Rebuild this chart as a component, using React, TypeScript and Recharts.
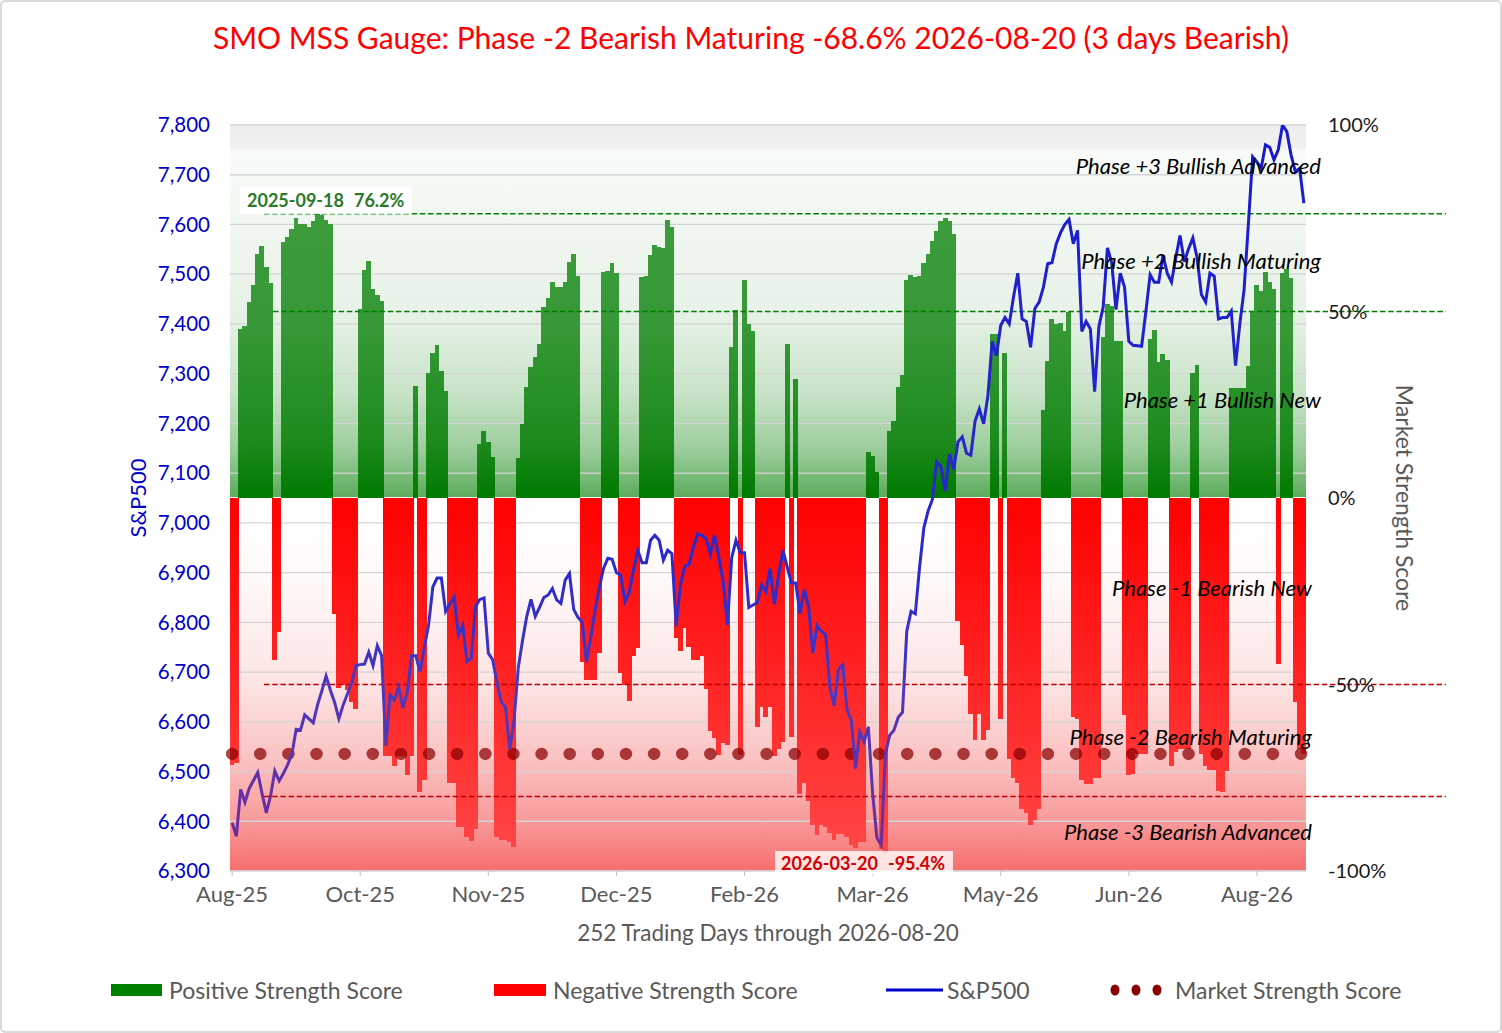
import React from 'react';
import { ComposedChart, Bar, Line, XAxis, YAxis, CartesianGrid, ReferenceLine } from 'recharts';

// Market strength score per trading day (%), 252 days Aug-25 .. 2026-08-20
const SCORE: number[] = [
  -71.5, -71.0, 45.3, 46.2, 52.6, 57.2, 65.3, 67.5, 61.8, 57.6,
  -43.3, -36.0, 68.6, 70.0, 72.0, 75.0, 73.4, 73.4, 72.6, 74.2,
  76.2, 76.0, 74.4, 73.4, -31.1, -50.9, -50.2, -51.5, -54.8, -56.5,
  50.6, 61.0, 63.5, 56.0, 54.5, 52.7, -69.3, -69.3, -71.9, -69.3,
  -69.3, -74.2, -69.3, 29.9, -78.7, -75.5, 33.5, 38.9, 41.0, 34.0,
  28.6, -76.3, -76.3, -88.1, -88.1, -90.8, -92.0, -88.8, 14.4, 17.9,
  14.9, 10.9, -91.0, -91.8, -91.8, -92.2, -93.6, 10.7, 19.9, 29.8,
  35.0, 37.8, 41.4, 51.3, 53.6, 57.8, 56.5, 56.7, 57.8, 63.4,
  65.5, 59.4, -44.0, -48.9, -48.9, -48.9, -41.6, 60.5, 60.9, 63.1,
  60.2, -46.8, -50.1, -54.3, -42.4, -40.2, 59.2, 59.4, 65.1, 67.7,
  67.3, 67.1, 74.6, 72.6, -37.4, -40.9, -34.8, -40.0, -43.3, -43.3,
  -42.4, -51.2, -62.4, -64.4, -69.0, -65.7, -66.1, 40.4, 50.3, -69.0,
  58.5, 46.6, 44.7, -61.4, -56.1, -58.8, -56.1, -69.3, -67.3, -65.3,
  41.4, -64.0, 31.8, -79.4, -76.5, -81.1, -87.7, -90.4, -87.7, -88.1,
  -89.7, -91.7, -90.0, -90.0, -91.0, -93.0, -93.7, -92.1, -92.1, 12.3,
  11.3, 7.1, -94.2, -95.4, 17.9, 20.7, 29.8, 33.1, 58.5, 59.8,
  59.2, 59.4, 63.1, 65.3, 69.0, 71.7, 74.3, 75.0, 74.3, 70.8,
  -33.1, -39.4, -47.6, -57.8, -65.0, -57.8, -65.0, -62.1, 44.0, 44.0,
  -59.2, 39.0, -70.0, -75.2, -76.5, -83.4, -84.5, -87.7, -86.4, -83.4,
  23.6, 36.8, 48.0, 46.6, 47.0, 44.9, 49.9, -58.8, -59.2, -75.5,
  -76.8, -76.8, -75.2, -75.0, 43.1, 51.9, 51.5, 42.0, 42.0, -58.1,
  -74.2, -73.9, -68.6, -68.6, -68.6, 42.7, 45.1, 36.5, 38.7, 37.0,
  -71.9, -68.0, -67.3, -67.3, -67.3, 33.5, 35.7, -68.6, -71.9, -72.9,
  -72.9, -78.5, -78.9, -73.3, 29.5, 29.5, 29.5, 29.5, 35.4, 50.0,
  57.2, 55.6, 60.7, 58.0, 55.9, -44.4, 60.2, 61.3, 59.1, -54.7,
  -67.2, -68.6,
];

// S&P500 close per trading day
const SPX: number[] = [
  6397, 6370, 6464, 6438, 6466, 6482, 6498, 6456, 6417, 6451,
  6501, 6481, 6496, 6514, 6535, 6585, 6583, 6614, 6606, 6598,
  6634, 6662, 6692, 6664, 6639, 6606, 6634, 6656, 6678, 6713,
  6715, 6716, 6740, 6713, 6753, 6733, 6552, 6654, 6644, 6670,
  6628, 6659, 6733, 6733, 6701, 6748, 6794, 6871, 6889, 6889,
  6822, 6837, 6851, 6774, 6794, 6721, 6728, 6832, 6846, 6849,
  6738, 6725, 6680, 6640, 6630, 6545, 6600, 6708, 6763, 6812,
  6846, 6812, 6830, 6850, 6855, 6868, 6845, 6838, 6885, 6898,
  6826, 6810, 6800, 6720, 6770, 6825, 6870, 6909, 6929, 6927,
  6900, 6895, 6842, 6860, 6905, 6945, 6920, 6920, 6965, 6975,
  6965, 6925, 6945, 6938, 6792, 6876, 6913, 6916, 6950, 6978,
  6975, 6968, 6938, 6975, 6930, 6881, 6795, 6930, 6965, 6940,
  6940, 6830, 6835, 6840, 6875, 6862, 6908, 6836, 6896, 6945,
  6911, 6879, 6879, 6817, 6866, 6832, 6738, 6794, 6782, 6775,
  6669, 6632, 6705, 6715, 6624, 6604, 6506, 6580, 6560, 6590,
  6456, 6367, 6352, 6535, 6573, 6583, 6609, 6619, 6782, 6822,
  6817, 6911, 6990, 7024, 7047, 7123, 7113, 7064, 7138, 7108,
  7163, 7173, 7140, 7136, 7205, 7229, 7199, 7255, 7365, 7336,
  7397, 7413, 7400, 7454, 7502, 7410, 7405, 7353, 7431, 7444,
  7474, 7521, 7523, 7561, 7583, 7600, 7610, 7561, 7588, 7385,
  7405, 7390, 7264, 7395, 7434, 7553, 7523, 7429, 7502, 7474,
  7365, 7357, 7356, 7355, 7425, 7499, 7484, 7484, 7538, 7502,
  7484, 7533, 7578, 7525, 7551, 7573, 7533, 7459, 7444, 7502,
  7496, 7410, 7413, 7413, 7426, 7316, 7400, 7469, 7600, 7736,
  7726, 7713, 7760, 7755, 7730, 7750, 7800, 7787, 7740, 7706,
  7713, 7643,
];

const MSS_CURRENT = -68.6;
const PEAK_LEVEL = 76.2;
const GREEN_LEVELS = [PEAK_LEVEL, 50];
const RED_LEVELS = [-50, -80];

const X_TICK_INDEX = [0, 30, 60, 90, 120, 150, 180, 210, 240];
const X_TICK_LABELS = ['Aug-25', 'Oct-25', 'Nov-25', 'Dec-25', 'Feb-26', 'Mar-26', 'May-26', 'Jun-26', 'Aug-26'];
const SPX_TICKS = [6300, 6400, 6500, 6600, 6700, 6800, 6900, 7000, 7100, 7200, 7300, 7400, 7500, 7600, 7700, 7800];
const SCORE_TICKS = [-100, -50, 0, 50, 100];

const PHASE_UPPER = ['Phase +3 Bullish Advanced', 'Phase +2 Bullish Maturing', 'Phase +1 Bullish New'];
const PHASE_LOWER = ['Phase -1 Bearish New', 'Phase -2 Bearish Maturing', 'Phase -3 Bearish Advanced'];

const DATA = SCORE.map((s, i) => ({ i, score: s, spx: SPX[i], mss: MSS_CURRENT }));

// layout constants (plot area edges)
const PLOT_LEFT = 230;
const PLOT_RIGHT = 1306;

const ScoreBar = (p: any) => {
  const { x, y, width, height, payload } = p;
  if (x == null || y == null || !isFinite(height)) return null;
  const top = Math.min(y, y + height);
  const h = Math.abs(height);
  const pos = payload && payload.score >= 0;
  return (
    <rect
      x={x - 0.45}
      y={top}
      width={width + 0.9}
      height={h}
      fill={pos ? 'url(#barGreen)' : 'url(#barRed)'}
      shapeRendering="crispEdges"
    />
  );
};

const makeRefShape = (color: string, startOffset: number) => (p: any) => (
  <line
    x1={PLOT_LEFT + startOffset}
    x2={PLOT_RIGHT + 140}
    y1={p.y1}
    y2={p.y2}
    stroke={color}
    strokeWidth={1.5}
    strokeDasharray="5.5 2.7"
  />
);

const fmtX = (v: number) => {
  const k = X_TICK_INDEX.indexOf(v);
  return k >= 0 ? X_TICK_LABELS[k] : '';
};

export default function App() {
  return (
    <div
      style={{
        position: 'absolute',
        left: 0,
        top: 0,
        width: 1502,
        height: 1033,
        background: '#ffffff',
        fontFamily: 'Lato, "Open Sans", sans-serif',
        overflow: 'hidden',
      }}
    >
      <svg width={0} height={0} style={{ position: 'absolute' }}>
        <defs>
          <linearGradient id="plotBg" gradientUnits="userSpaceOnUse" x1={0} y1={125} x2={0} y2={871}>
            <stop offset="0" stopColor="#EDEDED" />
            <stop offset="0.03" stopColor="#F1F1F1" />
            <stop offset="0.035" stopColor="#F8FBF8" />
            <stop offset="0.25" stopColor="#E8F2E8" />
            <stop offset="0.36" stopColor="#C8E3C8" />
            <stop offset="0.44" stopColor="#98CB98" />
            <stop offset="0.498" stopColor="#5CAC5C" />
            <stop offset="0.498" stopColor="#FFFFFF" />
            <stop offset="0.6" stopColor="#FFFAFA" />
            <stop offset="0.75" stopColor="#FDE4E4" />
            <stop offset="0.85" stopColor="#FBC2C2" />
            <stop offset="0.93" stopColor="#F99C9C" />
            <stop offset="1" stopColor="#F76E6E" />
          </linearGradient>
          <linearGradient id="barGreen" gradientUnits="userSpaceOnUse" x1={0} y1={125} x2={0} y2={497}>
            <stop offset="0" stopColor="#42A042" />
            <stop offset="0.55" stopColor="#369836" />
            <stop offset="0.85" stopColor="#1D8A1D" />
            <stop offset="1" stopColor="#007A00" />
          </linearGradient>
          <linearGradient id="barRed" gradientUnits="userSpaceOnUse" x1={0} y1={497} x2={0} y2={871}>
            <stop offset="0" stopColor="#FF0000" />
            <stop offset="0.4" stopColor="#FF1E1E" />
            <stop offset="1" stopColor="#FF4A4A" />
          </linearGradient>
          <linearGradient id="spxStroke" gradientUnits="userSpaceOnUse" x1={0} y1={125} x2={0} y2={871}>
            <stop offset="0" stopColor="#1A1ACC" />
            <stop offset="0.6" stopColor="#2A2ACC" />
            <stop offset="0.76" stopColor="#4A38C0" />
            <stop offset="1" stopColor="#7A2A90" />
          </linearGradient>
        </defs>
      </svg>

      <ComposedChart
        width={1502}
        height={1033}
        data={DATA}
        margin={{ top: 125, right: 106, bottom: 122, left: 140 }}
        barCategoryGap={0}
        barGap={0}
      >
        <CartesianGrid
          yAxisId="left"
          vertical={false}
          stroke="#D4D4D4"
          strokeWidth={1.3}
          fill="url(#plotBg)"
          fillOpacity={1}
        />
        <XAxis
          dataKey="i"
          type="category"
          interval={29}
          tickFormatter={fmtX}
          height={40}
          tick={{ fill: '#595959', fontSize: 22 }}
          tickSize={5}
          tickMargin={10}
          tickLine={{ stroke: '#BFBFBF' }}
          axisLine={{ stroke: '#D9D9D9' }}
        />
        <YAxis
          yAxisId="left"
          orientation="left"
          domain={[6300, 7800]}
          ticks={SPX_TICKS}
          width={90}
          tickSize={0}
          tickMargin={20}
          axisLine={false}
          tick={{ fill: '#0000CC', fontSize: 20.5 }}
          tickFormatter={(v: number) => v.toLocaleString('en-US')}
          allowDataOverflow
        />
        <YAxis
          yAxisId="right"
          orientation="right"
          domain={[-100, 100]}
          ticks={SCORE_TICKS}
          width={90}
          tickSize={0}
          tickMargin={22}
          axisLine={false}
          tick={{ fill: '#1A1A1A', fontSize: 20 }}
          tickFormatter={(v: number) => `${v}%`}
          allowDataOverflow
        />
        <Bar yAxisId="right" dataKey="score" isAnimationActive={false} shape={ScoreBar} />
        {GREEN_LEVELS.map((lv, k) => (
          <ReferenceLine
            key={'g' + lv}
            yAxisId="right"
            y={lv}
            shape={makeRefShape('#008000', k === 0 ? 34 : 43)}
          />
        ))}
        {RED_LEVELS.map((lv) => (
          <ReferenceLine key={'r' + lv} yAxisId="right" y={lv} shape={makeRefShape('#C00000', 34)} />
        ))}
        <Line
          yAxisId="right"
          dataKey="mss"
          type="linear"
          stroke="#8B0000"
          strokeOpacity={0.72}
          strokeWidth={12.5}
          strokeLinecap="round"
          strokeDasharray="0 28.13"
          dot={false}
          activeDot={false}
          isAnimationActive={false}
        />
        <Line
          yAxisId="left"
          dataKey="spx"
          type="linear"
          stroke="url(#spxStroke)"
          strokeWidth={3}
          dot={false}
          activeDot={false}
          isAnimationActive={false}
        />
      </ComposedChart>

      <svg
        width={1502}
        height={1033}
        style={{ position: 'absolute', left: 0, top: 0, pointerEvents: 'none' }}
      >
        <rect x={1} y={1} width={1500} height={1031} rx={4} fill="none" stroke="#D9D9D9" strokeWidth={2} />
        <text x={751} y={49} textAnchor="middle" fill="#FF0000" fontSize={30}>
          SMO MSS Gauge: Phase -2 Bearish Maturing -68.6% 2026-08-20 (3 days Bearish)
        </text>

        <text
          x={137}
          y={498}
          transform="rotate(-90 137 498)"
          textAnchor="middle"
          dominantBaseline="central"
          fill="#0000CC"
          fontSize={22}
        >
          S&amp;P500
        </text>
        <text
          x={1405}
          y={498}
          transform="rotate(90 1405 498)"
          textAnchor="middle"
          dominantBaseline="central"
          fill="#595959"
          fontSize={23}
        >
          Market Strength Score
        </text>
        <text x={768} y={941} textAnchor="middle" fill="#595959" fontSize={22.5}>
          252 Trading Days through 2026-08-20
        </text>

        {PHASE_UPPER.map((t, k) => (
          <text
            key={t}
            x={1321}
            y={[174, 269, 408][k]}
            textAnchor="end"
            fontStyle="italic"
            fill="#000000"
            fontSize={22}
          >
            {t}
          </text>
        ))}
        {PHASE_LOWER.map((t, k) => (
          <text
            key={t}
            x={1312}
            y={[596, 745, 840][k]}
            textAnchor="end"
            fontStyle="italic"
            fill="#000000"
            fontSize={22}
          >
            {t}
          </text>
        ))}

        <rect x={240} y={186} width={172} height={28} fill="#FFFFFF" fillOpacity={0.85} />
        <text x={247} y={207} fill="#2A7A2A" fontSize={18} fontWeight="bold">
          <tspan>2025-09-18</tspan>
          <tspan dx={10}>76.2%</tspan>
        </text>

        <rect x={775} y={851} width={178} height={24} fill="#FFFFFF" fillOpacity={0.8} />
        <text x={781} y={870} fill="#D00000" fontSize={18} fontWeight="bold">
          <tspan>2026-03-20</tspan>
          <tspan dx={10}>-95.4%</tspan>
        </text>

        <rect x={111} y={984} width={51} height={12} fill="#008000" />
        <text x={169} y={990} dominantBaseline="central" fill="#595959" fontSize={23}>
          Positive Strength Score
        </text>
        <rect x={494} y={984} width={52} height={12} fill="#FF0000" />
        <text x={553} y={990} dominantBaseline="central" fill="#595959" fontSize={23}>
          Negative Strength Score
        </text>
        <line x1={886} x2={943} y1={990} y2={990} stroke="#0000CC" strokeWidth={3} />
        <text x={947} y={990} dominantBaseline="central" fill="#595959" fontSize={23}>
          S&amp;P500
        </text>
        {[1115, 1136, 1157].map((cx) => (
          <ellipse key={cx} cx={cx} cy={990} rx={4.5} ry={5.5} fill="#8B0000" />
        ))}
        <text x={1175} y={990} dominantBaseline="central" fill="#595959" fontSize={23}>
          Market Strength Score
        </text>
      </svg>
    </div>
  );
}
